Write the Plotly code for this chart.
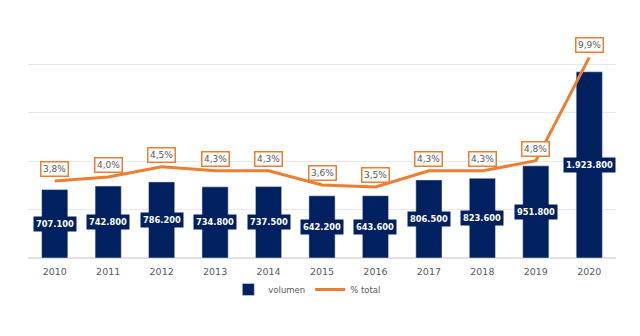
import plotly.graph_objects as go

years = [2010, 2011, 2012, 2013, 2014, 2015, 2016, 2017, 2018, 2019, 2020]
volumen = [707100, 742800, 786200, 734800, 737500, 642200, 643600, 806500, 823600, 951800, 1923800]
pct_total = [3.8, 4.0, 4.5, 4.3, 4.3, 3.6, 3.5, 4.3, 4.3, 4.8, 9.9]

NAVY = "#002060"
ORANGE = "#ED7D31"
GREY = "#595959"

def fmt_thousands(v):
    return f"{v:,}".replace(",", ".")

def fmt_pct(p):
    return f"{p:.1f}%".replace(".", ",")

fig = go.Figure()
fig.add_trace(go.Bar(x=years, y=volumen, name="volumen", marker_color=NAVY,
                     width=0.49, hoverinfo="skip"))
fig.add_trace(go.Scatter(x=years, y=pct_total, name="% total", yaxis="y2",
                         mode="lines", line=dict(color=ORANGE, width=3),
                         hoverinfo="skip"))

annotations = []
for yr, v in zip(years, volumen):
    annotations.append(dict(x=yr, y=v / 2, xref="x", yref="y", text=fmt_thousands(v),
                            showarrow=False, bgcolor=NAVY, borderpad=2,
                            font=dict(family="DejaVu Sans", size=8.3, color="white", weight="bold")))
for yr, p in zip(years, pct_total):
    annotations.append(dict(x=yr, y=p, xref="x", yref="y2", text=fmt_pct(p),
                            showarrow=False, yshift=12, bgcolor="white",
                            bordercolor=ORANGE, borderwidth=1.5, borderpad=1.5,
                            font=dict(family="DejaVu Sans", size=9, color=GREY)))

fig.update_layout(
    width=640, height=336,
    margin=dict(l=28, r=24, t=16, b=78),
    paper_bgcolor="white", plot_bgcolor="white",
    font=dict(family="DejaVu Sans", size=9, color=GREY),
    showlegend=True,
    legend=dict(orientation="h", x=0.475, xanchor="center", y=-0.13, yanchor="middle",
                font=dict(size=8.5, color=GREY), itemwidth=30, tracegroupgap=0),
    xaxis=dict(range=[2009.5, 2020.5], tickmode="linear", tick0=2010, dtick=1,
               showgrid=False, showline=False, ticks="", zeroline=False,
               ticklabelstandoff=6,
               tickfont=dict(size=9.5, color=GREY)),
    yaxis=dict(range=[0, 2.5e6], tickvals=[0, 500000, 1000000, 1500000, 2000000],
               showticklabels=False, showgrid=True, gridcolor="#E8E8E8", gridwidth=1,
               zeroline=True, zerolinecolor="#E0E0E0", showline=False),
    yaxis2=dict(range=[0, 11.94], overlaying="y", side="right", showgrid=False,
                showticklabels=False, zeroline=False, showline=False),
    annotations=annotations,
)

fig.write_html("out.html")
